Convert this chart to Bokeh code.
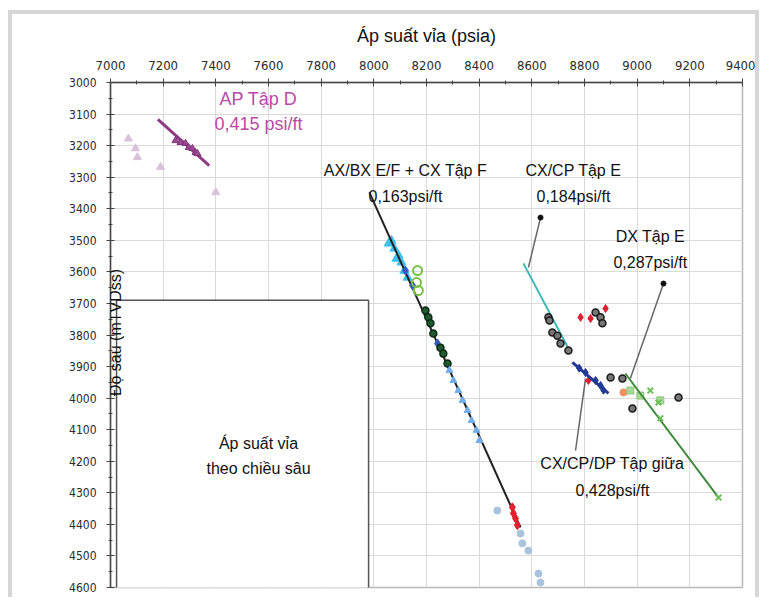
from bokeh.plotting import figure
from bokeh.models import Range1d, Label, FixedTicker
from bokeh.embed import file_html
from bokeh.resources import INLINE

# ---------------- data ----------------
x_ticks = [7000, 7200, 7400, 7600, 7800, 8000, 8200, 8400, 8600, 8800, 9000, 9200, 9400]
y_ticks = [3000, 3100, 3200, 3300, 3400, 3500, 3600, 3700, 3800, 3900, 4000,
           4100, 4200, 4300, 4400, 4500, 4600]

# AP Tap D
apd_line_x = [7180, 7375]
apd_line_y = [3117, 3263]
apd_pts_x = [7247, 7266, 7285, 7297, 7311, 7323, 7330]
apd_pts_y = [3184, 3190, 3193, 3206, 3209, 3222, 3225]
apd_faint_x = [7068, 7095, 7102, 7190, 7400]
apd_faint_y = [3178, 3209, 3237, 3268, 3348]

# AX/BX E/F + CX Tap F
axbx_line_x = [7983, 8557]
axbx_line_y = [3348, 4410]
cyan_x = [8056, 8067, 8078, 8086, 8094, 8105, 8116, 8128]
cyan_y = [3510, 3501, 3526, 3558, 3548, 3570, 3596, 3618]
blue_x = [8120, 8147, 8242]
blue_y = [3596, 3643, 3827]
green_open_x = [8166, 8162, 8169]
green_open_y = [3596, 3634, 3659]
dkgreen_x = [8196, 8207, 8215, 8226, 8253, 8264, 8280]
dkgreen_y = [3722, 3744, 3763, 3795, 3840, 3859, 3890]
ltblue_x = [8287, 8302, 8321, 8337, 8356, 8371, 8390, 8401]
ltblue_y = [3912, 3944, 3976, 4007, 4039, 4071, 4102, 4134]
red_bot_x = [8526, 8530, 8538, 8545]
red_bot_y = [4346, 4365, 4381, 4403]
grayblue_x = [8469, 8557, 8564, 8587, 8625, 8633]
grayblue_y = [4356, 4429, 4460, 4483, 4556, 4584]

# CX/CP Tap E
cxcp_line_x = [8568, 8739]
cxcp_line_y = [3573, 3843]
cxcp_pts_x = [8663, 8667, 8678, 8697, 8709, 8739]
cxcp_pts_y = [3744, 3754, 3792, 3802, 3827, 3849]
red_mid_x = [8785, 8823, 8880, 8815]
red_mid_y = [3744, 3748, 3716, 3944]
blk_mid_x = [8842, 8861, 8868, 8899, 8944, 8982, 9157]
blk_mid_y = [3729, 3744, 3763, 3935, 3938, 4033, 3998]

# CX/CP/DP Tap giua
mid_line_x = [8754, 8891]
mid_line_y = [3887, 3985]
mid_pts_x = [8780, 8804, 8842, 8861, 8872]
mid_pts_y = [3905, 3919, 3944, 3960, 3975]

# DX Tap E
dx_line_x = [8955, 9309]
dx_line_y = [3922, 4315]
dx_sq_x = [8974, 9012, 9088]
dx_sq_y = [3976, 3992, 4007]
dx_x_x = [9050, 9081, 9088, 9309]
dx_x_y = [3976, 4014, 4064, 4315]
orange_x = [8948]
orange_y = [3982]

# annotation leader lines (start -> end)
lead_cxcp_x = [8587, 8633]
lead_cxcp_y = [3586, 3428]
lead_dx_x = [8974, 9100]
lead_dx_y = [3938, 3637]
lead_mid_x = [8804, 8766]
lead_mid_y = [3938, 4166]

# inset box extents
inset_left, inset_right, inset_top, inset_bottom = 7023, 7980, 3690, 4640

# ---------------- figure ----------------
band = "4px solid #d6d6d6"
p = figure(width=751, height=587,
           x_range=Range1d(7000, 9400), y_range=Range1d(4600, 3000),
           x_axis_location="above",
           output_backend="svg", toolbar_location=None,
           min_border_left=98, min_border_right=21,
           min_border_top=68, min_border_bottom=14,
           styles={"margin-left": "8px", "margin-top": "10px",
                   "border-top": band, "border-left": band, "border-right": band})

p.background_fill_color = "white"
p.border_fill_color = "white"
p.outline_line_color = "#b8b8b8"
p.outline_line_width = 1.5

p.xaxis.ticker = FixedTicker(ticks=x_ticks, minor_ticks=list(range(7000, 9401, 100)))
p.yaxis.ticker = FixedTicker(ticks=y_ticks, minor_ticks=list(range(3000, 4601, 50)))
p.xgrid.ticker = FixedTicker(ticks=x_ticks)
p.ygrid.ticker = FixedTicker(ticks=y_ticks)
p.grid.grid_line_color = "#dadada"
p.grid.grid_line_width = 1

for ax in (p.xaxis, p.yaxis):
    ax.axis_line_color = "#444444"
    ax.axis_line_width = 1.5
    ax.major_tick_line_color = "#444444"
    ax.minor_tick_line_color = "#444444"
    ax.major_tick_in = 4
    ax.major_tick_out = 4
    ax.minor_tick_in = 2
    ax.minor_tick_out = 2
    ax.major_label_text_font = "DejaVu Sans Condensed"
    ax.major_label_text_color = "#2a2a2a"

p.xaxis.major_label_text_font_size = "13px"
p.yaxis.major_label_text_font_size = "12px"
p.xaxis.major_label_standoff = 9
p.yaxis.major_label_standoff = 10
p.xaxis.axis_label = "Áp suất vỉa (psia)"
p.xaxis.axis_label_text_font = "Liberation Sans"
p.xaxis.axis_label_text_font_size = "18px"
p.xaxis.axis_label_text_font_style = "normal"
p.xaxis.axis_label_text_color = "#111111"
p.xaxis.axis_label_standoff = 12

# inset white box
p.quad(left=[inset_left], right=[inset_right], top=[inset_top], bottom=[inset_bottom],
       fill_color="white", line_color="#555555", line_width=1.5)

# AP Tap D
p.scatter(apd_faint_x, apd_faint_y, marker="triangle", size=8,
          fill_color="#d8c2d8", line_color="#d8c2d8")
p.line(apd_line_x, apd_line_y, line_color="#8e3b86", line_width=3)
p.scatter(apd_pts_x, apd_pts_y, marker="triangle", size=7,
          fill_color="#9c4a93", line_color="#7e3476")

# AX/BX
p.scatter(cyan_x, cyan_y, marker="triangle", size=9, fill_color="#3cc2ec", line_color="#3cc2ec")
p.line(axbx_line_x, axbx_line_y, line_color="#222222", line_width=2)
p.scatter(blue_x, blue_y, marker="diamond", size=9, fill_color="#3559c0", line_color="#3559c0")
p.scatter(green_open_x, green_open_y, marker="circle", size=9, fill_color=None,
          line_color="#78c043", line_width=2)
p.scatter(dkgreen_x, dkgreen_y, marker="circle", size=7, fill_color="#1f5a30",
          line_color="#0d2a16", line_width=1.5)
p.scatter(ltblue_x, ltblue_y, marker="triangle", size=7, fill_color="#74aee8", line_color="#74aee8")
p.scatter(red_bot_x, red_bot_y, marker="diamond", size=9, fill_color="#e0202e", line_color="#e0202e")
p.scatter(grayblue_x, grayblue_y, marker="circle", size=7, fill_color="#a9c3dd", line_color="#a9c3dd")

# CX/CP Tap E
p.line(cxcp_line_x, cxcp_line_y, line_color="#40b8b8", line_width=2)
p.scatter(cxcp_pts_x, cxcp_pts_y, marker="circle", size=7, fill_color="#777777",
          line_color="#1a1a1a", line_width=1.5)
p.scatter(red_mid_x, red_mid_y, marker="diamond", size=8, fill_color="#e0202e", line_color="#e0202e")
p.scatter(blk_mid_x, blk_mid_y, marker="circle", size=7, fill_color="#777777",
          line_color="#1a1a1a", line_width=1.5)

# CX/CP/DP Tap giua
p.line(mid_line_x, mid_line_y, line_color="#233a94", line_width=3)
p.scatter(mid_pts_x, mid_pts_y, marker="diamond", size=8, fill_color="#233a94", line_color="#233a94")

# DX Tap E
p.scatter(orange_x, orange_y, marker="circle", size=7, fill_color="#f0905a", line_color="#f0905a")
p.scatter(dx_sq_x, dx_sq_y, marker="square", size=7, fill_color="#a8d898", line_color="#8cc87a")
p.line(dx_line_x, dx_line_y, line_color="#3e8a3a", line_width=2)
p.scatter(dx_x_x, dx_x_y, marker="x", size=8, line_color="#6cbf5a", line_width=2)

# leader lines
for lx, ly, dot in ((lead_cxcp_x, lead_cxcp_y, True), (lead_dx_x, lead_dx_y, True),
                    (lead_mid_x, lead_mid_y, False)):
    p.line(lx, ly, line_color="#666666", line_width=1.5)
    if dot:
        p.scatter([lx[1]], [ly[1]], marker="circle", size=5, fill_color="#111111", line_color="#111111")

# text labels
def lab(x, y, t, color="#111111", size="16px"):
    p.add_layout(Label(x=x, y=y, text=t, text_align="center", text_baseline="middle",
                       text_font="Liberation Sans", text_font_size=size, text_color=color))

lab(7562, 3051, "AP Tập D", "#b84aa6", "18px")
lab(7562, 3130, "0,415 psi/ft", "#b84aa6", "18px")
lab(8120, 3279, "AX/BX E/F + CX Tập F")
lab(8120, 3361, "0,163psi/ft")
lab(8758, 3279, "CX/CP Tập E")
lab(8758, 3361, "0,184psi/ft")
lab(9050, 3488, "DX Tập E")
lab(9050, 3570, "0,287psi/ft")
lab(8906, 4207, "CX/CP/DP Tập giữa")
lab(8906, 4293, "0,428psi/ft")
lab(7562, 4144, "Áp suất vỉa")
lab(7562, 4223, "theo chiều sâu")

p.add_layout(Label(x=7018, y=3792, text="Độ sâu (mTVDss)", angle=1.5708,
                   text_align="center", text_baseline="middle",
                   text_font="Liberation Sans", text_font_size="16px", text_color="#111111"))

open("out.html", "w").write(file_html(p, INLINE))
